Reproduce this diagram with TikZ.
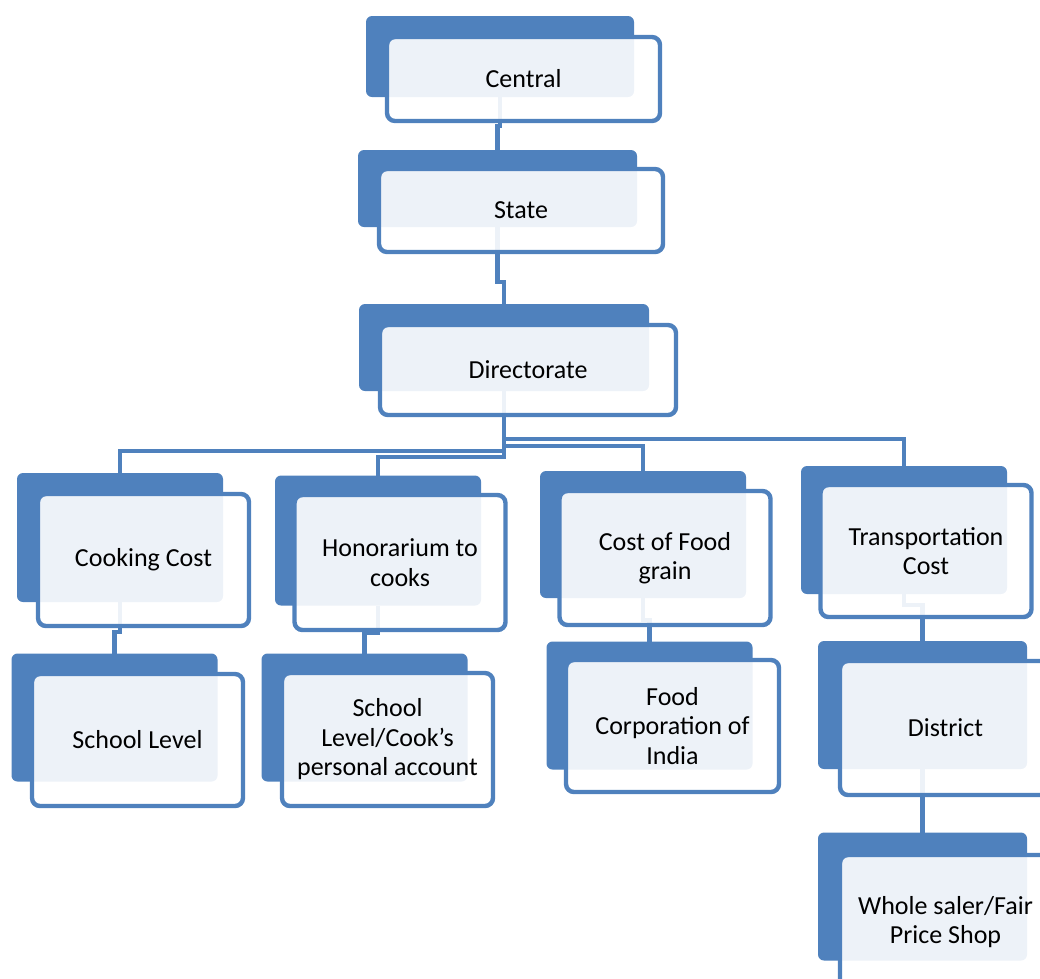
\documentclass[tikz,border=0pt]{standalone}
\usepackage{fontspec}
\setmainfont{Carlito}
\usepackage{xcolor}
\definecolor{fundblue}{HTML}{4F81BD}

\begin{document}
\begin{tikzpicture}[
    x=0.02cm, y=-0.02cm,
    plate/.style={rectangle, rounded corners=0.12cm, fill=fundblue, inner sep=0pt, outer sep=0pt,
                  minimum width=206*\px, minimum height=128*\px},
    card/.style={rectangle, rounded corners=0.16cm, draw=fundblue, line width=0.088cm,
                 fill=white, fill opacity=0.9, text opacity=1, inner sep=0pt, outer sep=0pt,
                 align=center, font=\fontsize{14.8}{16.8}\selectfont,
                 minimum width=211*\px, minimum height=133*\px},
    link/.style={draw=fundblue, line width=0.095cm}
  ]
  \def\px{0.02cm}

  \useasboundingbox (0,0) rectangle (1040,978);
  \clip (0,0) rectangle (1040,978);

  % Back plates
  \node[plate, minimum width=268*\px, minimum height=81*\px] (centralB) at (500,56.5) {};
  \node[plate, minimum width=279*\px, minimum height=77*\px] (stateB) at (497.5,188.5) {};
  \node[plate, minimum width=290*\px, minimum height=87*\px] (dirB) at (504,347.5) {};
  \node[plate, minimum height=129*\px] (cookB) at (120,537.5) {};
  \node[plate, minimum height=130*\px] (honB) at (378,540.5) {};
  \node[plate, minimum height=127*\px] (grainB) at (643,534.5) {};
  \node[plate] (transB) at (904,530) {};
  \node[plate] (schoolB) at (114.5,717.5) {};
  \node[plate] (accountB) at (364.5,717.5) {};
  \node[plate] (fciB) at (649.5,705.5) {};
  \node[plate, minimum width=209*\px] (districtB) at (922.5,705) {};
  \node[plate, minimum width=209*\px] (shopB) at (922.5,896.5) {};

  % Links
  \draw[link] (centralB.south) -- ++(0,29) -| (stateB.north);
  \draw[link] (stateB.south) -- ++(0,55) -| (dirB.north);
  \draw[link] (dirB.south) -- ++(0,48) -| (transB.north);
  \draw[link] (dirB.south) -- ++(0,55) -| (grainB.north);
  \draw[link] (dirB.south) -- ++(0,60) -| (cookB.north);
  \draw[link] (dirB.south) -- ++(0,66) -| (honB.north);
  \draw[link] (cookB.south) -- ++(0,30) -| (schoolB.north);
  \draw[link] (honB.south) -- ++(0,27) -| (accountB.north);
  \draw[link] (grainB.south) -- ++(0,22) -| (fciB.north);
  \draw[link] (transB.south) -- ++(0,11) -| (districtB.north);
  \draw[link] (districtB.south) -- (shopB.north);

  % Front cards
  \node[card, minimum width=273*\px, minimum height=84*\px] (central) at (523.5,79) {Central};
  \node[card, minimum width=284*\px, minimum height=83*\px] (state) at (521,210.5) {State};
  \node[card, minimum width=296*\px, minimum height=90*\px] (dir) at (528,370) {Directorate};
  \node[card, minimum height=132*\px] (cook) at (143.5,560) {Cooking Cost};
  \node[card, minimum height=135*\px] (hon) at (400,562.5) {Honorarium to\\cooks};
  \node[card, minimum height=134*\px] (grain) at (665,558) {Cost of Food\\grain};
  \node[card, minimum height=132*\px] (trans) at (926,551) {Transportation\\Cost};
  \node[card, minimum height=132*\px] (school) at (137.5,740) {School Level};
  \node[card] (account) at (387.5,739.5) {School\\Level/Cook’s\\personal account};
  \node[card, minimum width=213*\px, minimum height=132*\px] (fci) at (672.5,726) {Food\\Corporation of\\India};
  \node[card, minimum height=134*\px] (district) at (945.5,728) {District};
  \node[card, minimum height=134*\px] (shop) at (945.5,922) {Whole saler/Fair\\Price Shop};
\end{tikzpicture}
\end{document}
